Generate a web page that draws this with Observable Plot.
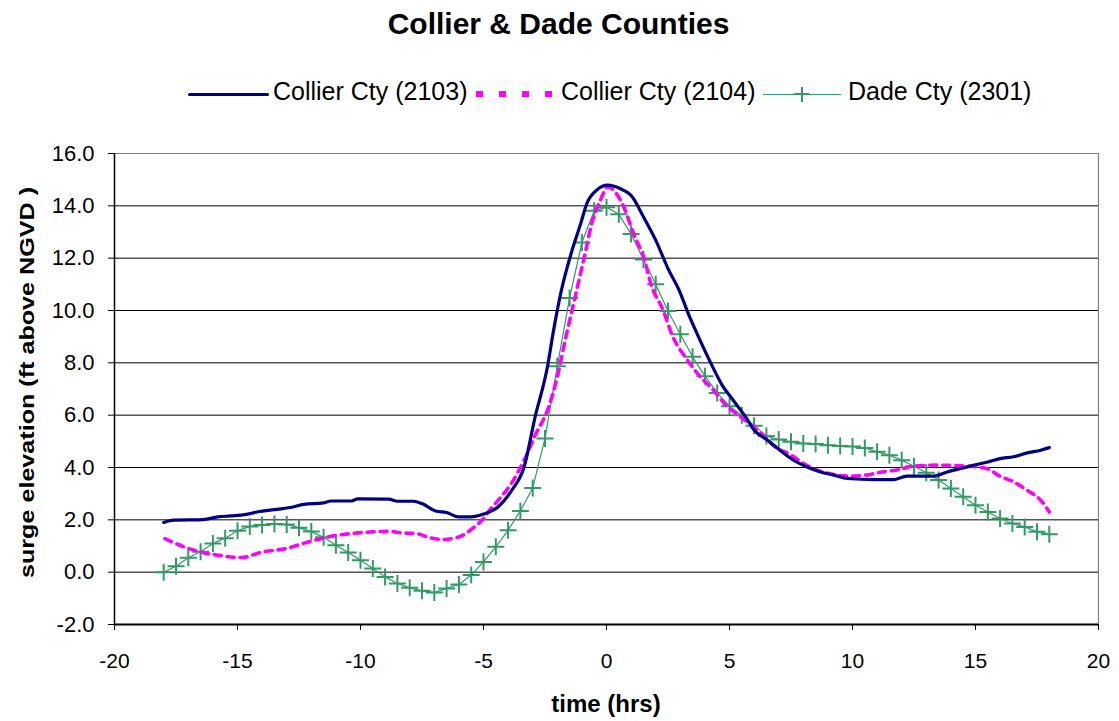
<!DOCTYPE html>
<html><head><meta charset="utf-8">
<script src="https://cdn.jsdelivr.net/npm/d3@7"></script>
<script src="https://cdn.jsdelivr.net/npm/@observablehq/plot@0.6"></script>
<style>
body{margin:0;background:#fff;font-family:"Liberation Sans",Arial,sans-serif;color:#000}
#wrap{position:relative;width:1119px;height:721px;overflow:hidden;background:#fff}
#header{position:relative;width:1119px;height:120px}
#title{position:absolute;left:0;width:1117px;top:9px;text-align:center;font-weight:bold;font-size:30px;line-height:30px}
.leg{position:absolute;top:79px;font-size:25px;line-height:25px;white-space:nowrap}
.sw{position:absolute}
</style></head>
<body>
<div id="wrap">
  <div id="header">
    <div id="title">Collier &amp; Dade Counties</div>
    <div id="legend"></div>
  </div>
  <div id="chart"></div>
</div>
<script>
// ---- data ----
const seriesNames = ["Collier Cty (2103)", "Collier Cty (2104)", "Dade Cty (2301)"];
const seriesColors = ["#000080", "#FF00FF", "#339966"];

const xTicks = [-20, -15, -10, -5, 0, 5, 10, 15, 20];
const yTicks = [-2, 0, 2, 4, 6, 8, 10, 12, 14, 16];

const collier2103X = [-18, -17.6, -16.4, -15.8, -15.3, -14.7, -14.2, -13.4, -12.85, -12.3,
  -11.5, -11.2, -10.4, -10.1, -8.85, -8.5, -7.85, -7.5, -6.95, -6.5,
  -6.0, -5.5, -5.0, -4.4, -3.85, -3.35, -2.9, -2.4, -2.15, -1.85,
  -1.4, -1.05, -0.8, -0.4, 0.05, 0.55, 1.05, 1.5, 2.0,
  2.5, 2.95, 3.35, 3.8, 4.25, 4.7, 5.15, 5.7, 6.0, 6.55,
  7.05, 7.6, 8.15, 8.7, 9.25, 9.8, 10.9, 11.7, 12.2, 13.3,
  13.85, 14.4, 14.95, 15.5, 16.0, 16.55, 17.1, 17.65, 18.0];
const collier2103Y = [1.9, 1.99, 2.01, 2.11, 2.15, 2.2, 2.3, 2.4, 2.47, 2.59,
  2.65, 2.72, 2.72, 2.8, 2.79, 2.71, 2.71, 2.62, 2.34, 2.28,
  2.11, 2.11, 2.22, 2.5, 3.13, 4.02, 5.94, 7.85, 9.25, 10.7,
  12.3, 13.32, 14.09, 14.6, 14.79, 14.66, 14.34, 13.58, 12.69,
  11.6, 10.78, 9.82, 8.87, 7.97, 7.15, 6.57, 5.87, 5.43, 5.04,
  4.66, 4.28, 4.02, 3.83, 3.71, 3.58, 3.54, 3.54, 3.67, 3.67,
  3.83, 3.96, 4.09, 4.21, 4.34, 4.41, 4.56, 4.66, 4.76];

const collier2104X = [-17.95, -17.15, -16.5, -15.8, -14.85, -14.0, -13.05, -12.25, -11.3, -10.35,
  -9.5, -8.85, -8.3, -7.75, -7.2, -6.65, -6.25, -5.85, -5.45, -5.0,
  -4.7, -4.4, -3.85, -3.3, -2.9, -2.35, -2.0, -1.65, -1.4, -1.15,
  -0.9, -0.6, -0.25, 0.05, 0.7, 1.1, 1.55, 1.8, 2.3, 2.7,
  3.25, 3.7, 4.35, 4.8, 5.35, 5.9, 6.3, 6.85, 7.4, 8.2,
  9.05, 9.85, 10.55, 11.2, 11.9, 12.45, 13.4, 14.75, 15.45, 16.0,
  16.55, 17.1, 17.65, 18.0];
const collier2104Y = [1.28, 0.96, 0.77, 0.65, 0.56, 0.77, 0.9, 1.12, 1.35, 1.48,
  1.54, 1.56, 1.5, 1.48, 1.32, 1.25, 1.29, 1.41, 1.67, 2.05,
  2.43, 2.75, 3.42, 4.37, 5.23, 6.31, 7.46, 8.99, 10.01, 11.03,
  12.05, 13.32, 14.21, 14.72, 13.96, 12.94, 11.92, 11.03, 10.01, 8.99,
  8.16, 7.59, 6.95, 6.44, 6.0, 5.62, 5.3, 4.79, 4.53, 4.05,
  3.77, 3.67, 3.71, 3.83, 3.92, 4.05, 4.09, 4.05, 3.96, 3.67,
  3.45, 3.13, 2.75, 2.3];

const dadeX = [-18, -17.5, -17, -16.5, -16, -15.5, -15, -14.5, -14, -13.5,
  -13, -12.5, -12, -11.5, -11, -10.5, -10, -9.5, -9, -8.5,
  -8, -7.5, -7, -6.5, -6, -5.5, -5, -4.5, -4, -3.5,
  -3, -2.5, -2, -1.5, -1, -0.5, 0, 0.5, 1, 1.5,
  2, 2.5, 3, 3.5, 4, 4.5, 5, 5.5, 6, 6.5,
  7, 7.5, 8, 8.5, 9, 9.5, 10, 10.5, 11, 11.5,
  12, 12.5, 13, 13.5, 14, 14.5, 15, 15.5, 16, 16.5,
  17, 17.5, 18];
const dadeY = [0.0, 0.23, 0.55, 0.78, 1.1, 1.3, 1.58, 1.75, 1.8, 1.84,
  1.82, 1.7, 1.55, 1.33, 1.03, 0.75, 0.46, 0.14, -0.18, -0.43,
  -0.6, -0.71, -0.78, -0.62, -0.47, -0.11, 0.39, 0.97, 1.6, 2.34,
  3.22, 5.11, 7.87, 10.48, 12.6, 13.81, 13.95, 13.68, 12.92, 11.95,
  11.0, 9.98, 9.09, 8.23, 7.49, 6.85, 6.34, 6.0, 5.6, 5.2,
  5.07, 4.98, 4.92, 4.9, 4.85, 4.82, 4.8, 4.75, 4.6, 4.47,
  4.28, 4.05, 3.8, 3.52, 3.2, 2.88, 2.56, 2.3, 2.05, 1.86,
  1.73, 1.54, 1.45];

// ---- tables built from the arrays ----
const s2103 = collier2103X.map((x, i) => ({x, y: collier2103Y[i]}));
const s2104 = collier2104X.map((x, i) => ({x, y: collier2104Y[i]}));
const sDade = dadeX.map((x, i) => ({x, y: dadeY[i]}));

// stroke-only "+" marker, fixed size
const plusSymbol = {
  draw(ctx) {
    const r = 8.5;
    ctx.moveTo(-r, 0); ctx.lineTo(r, 0);
    ctx.moveTo(0, -r); ctx.lineTo(0, r);
  }
};

const gridVals = yTicks.filter(v => v > -2 && v < 16);

const chart = Plot.plot({
  width: 1119,
  height: 601,
  marginTop: 33,
  marginBottom: 97,
  marginLeft: 114,
  marginRight: 21,
  x: {domain: [-20, 20]},
  y: {domain: [-2, 16]},
  style: {fontFamily: "'Liberation Sans', Arial, sans-serif", fontSize: "21px", color: "#000", background: "#fff"},
  marks: [
    Plot.ruleY(gridVals, {stroke: "#000", strokeWidth: 1}),
    Plot.ruleY([16], {stroke: "#808080", strokeWidth: 1.2}),
    Plot.ruleX([20], {stroke: "#808080", strokeWidth: 1.2}),
    Plot.line(sDade, {x: "x", y: "y", stroke: seriesColors[2], strokeWidth: 1.2, curve: "linear"}),
    Plot.dot(sDade, {x: "x", y: "y", symbol: plusSymbol, r: 8.5, stroke: seriesColors[2], strokeWidth: 2, fill: "none"}),
    Plot.line(s2104, {x: "x", y: "y", stroke: seriesColors[1], strokeWidth: 3.6, strokeDasharray: "7,6", curve: "monotone-x"}),
    Plot.line(s2103, {x: "x", y: "y", stroke: seriesColors[0], strokeWidth: 3.2, curve: "monotone-x"}),
    Plot.ruleX([-20], {stroke: "#000", strokeWidth: 1.5}),
    Plot.ruleY([-2], {stroke: "#000", strokeWidth: 2}),
    Plot.axisX({ticks: xTicks, tickSize: 6, tickPadding: 23, label: null, tickFormat: d => String(d)}),
    Plot.axisY({ticks: yTicks, tickSize: 6, tickPadding: 14, label: null, fontSize: 22, tickFormat: d => d.toFixed(1)})
  ]
});

const svg = d3.select(chart);
svg.append("text")
  .attr("transform", "translate(34,262.5) rotate(-90)")
  .attr("text-anchor", "middle")
  .attr("font-weight", "bold")
  .attr("font-size", 20)
  .attr("textLength", 391)
  .attr("lengthAdjust", "spacingAndGlyphs")
  .attr("fill", "#000")
  .text("surge elevation (ft above NGVD )");
svg.append("text")
  .attr("x", 606).attr("y", 592)
  .attr("text-anchor", "middle")
  .attr("font-weight", "bold")
  .attr("font-size", 24)
  .attr("fill", "#000")
  .text("time (hrs)");

document.getElementById("chart").appendChild(chart);

// ---- legend (HTML) ----
const leg = document.getElementById("legend");
function add(html) { leg.insertAdjacentHTML("beforeend", html); }
// Collier 2103: solid navy line
add(`<div class="sw" style="left:188px;top:92.5px;width:81px;height:3.5px;background:${seriesColors[0]};border-radius:2px"></div>`);
add(`<div class="leg" style="left:273px">${seriesNames[0]}</div>`);
// Collier 2104: magenta square dots
[476, 499, 522, 545].forEach(l => add(`<div class="sw" style="left:${l}px;top:91px;width:7px;height:6px;background:${seriesColors[1]}"></div>`));
add(`<div class="leg" style="left:561px">${seriesNames[1]}</div>`);
// Dade: green line with plus marker
add(`<div class="sw" style="left:763px;top:93.5px;width:78px;height:1.3px;background:${seriesColors[2]}"></div>`);
add(`<div class="sw" style="left:794px;top:93px;width:15px;height:2px;background:${seriesColors[2]}"></div>`);
add(`<div class="sw" style="left:800.5px;top:86.5px;width:2px;height:15px;background:${seriesColors[2]}"></div>`);
add(`<div class="leg" style="left:848px">${seriesNames[2]}</div>`);
</script>
</body></html>
